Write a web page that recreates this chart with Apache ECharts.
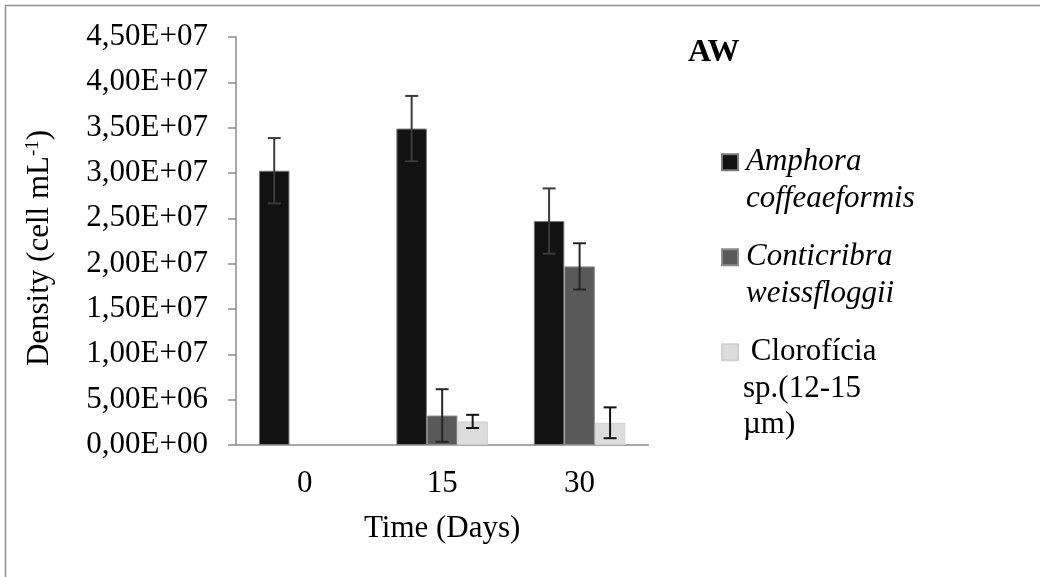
<!DOCTYPE html>
<html>
<head>
<meta charset="utf-8">
<script src="https://cdn.jsdelivr.net/npm/echarts@6/dist/echarts.min.js"></script>
<style>
html,body{margin:0;padding:0;background:#fff;}
#chart{width:1040px;height:577px;}
</style>
</head>
<body>
<div id="chart"></div>
<script>
// ---- data ----
var categories = ['0', '15', '30'];
var seriesNames = ['Amphora coffeaeformis', 'Conticribra weissfloggii', ' Clorofícia sp.(12-15 µm)'];
var amphora = [3.025e7, 3.49e7, 2.47e7];
var amphoraErr = [3.6e6, 3.6e6, 3.6e6];
var conticribra = [0, 3.25e6, 1.97e7];
var conticribraErr = [0, 2.9e6, 2.55e6];
var cloroficia = [0, 2.6e6, 2.45e6];
var cloroficiaErr = [0, 0.73e6, 1.7e6];
var yTickMin = 0, yTickMax = 4.5e7, yTickStep = 5e6;
var titleText = 'AW';
var xName = 'Time (Days)';
var yName = 'Density (cell mL{sup|-1})';

var FONT = '"Liberation Serif", "Times New Roman", serif';

function sciLabel(v) {
  if (v === 0) return '0,00E+00';
  var e = Math.floor(Math.log10(v) + 1e-9);
  var m = v / Math.pow(10, e);
  var es = (e < 10 ? '0' : '') + e;
  return m.toFixed(2).replace('.', ',') + 'E+' + es;
}
// zero-height bars are not drawn in the reference
function barData(vals) {
  return vals.map(function (v) { return v === 0 ? null : v; });
}

var BAR_W = 30.5;
function errSeries(vals, errs, idx, color) {
  var data = [];
  for (var i = 0; i < vals.length; i++) {
    if (errs[i] > 0) data.push([i, vals[i], errs[i]]);
  }
  return {
    type: 'custom',
    z: 5,
    silent: true,
    data: data,
    encode: { x: 0, y: 1 },
    renderItem: function (params, api) {
      var c = api.value(0), v = api.value(1), e = api.value(2);
      var x = api.coord([c, v])[0] + (idx - 1) * BAR_W;
      var yHi = api.coord([c, v + e])[1];
      var yLo = api.coord([c, v - e])[1];
      var hw = 6.5;
      var st = { stroke: color, lineWidth: 2 };
      return {
        type: 'group',
        children: [
          { type: 'line', shape: { x1: x, y1: yHi, x2: x, y2: yLo }, style: st },
          { type: 'line', shape: { x1: x - hw, y1: yHi, x2: x + hw, y2: yHi }, style: st },
          { type: 'line', shape: { x1: x - hw, y1: yLo, x2: x + hw, y2: yLo }, style: st }
        ]
      };
    }
  };
}

var legendText = {};
legendText[seriesNames[0]] = '\n\nAmphora\ncoffeaeformis\n';
legendText[seriesNames[1]] = '\n\nConticribra\nweissfloggii\n';
legendText[seriesNames[2]] = '\n\n Clorofícia\nsp.(12-15\nµm)';

var chart = echarts.init(document.getElementById('chart'), null, { renderer: 'canvas' });
var option = {
  animation: false,
  backgroundColor: '#fff',
  title: {
    text: titleText,
    left: 688,
    top: 37,
    padding: 0,
    textStyle: { fontFamily: FONT, fontSize: 32, fontWeight: 'bold', color: '#000' }
  },
  graphic: [{
    type: 'rect',
    shape: { x: 5.5, y: 5.5, width: 2000, height: 2000 },
    style: { fill: null, stroke: '#8f8f8f', lineWidth: 1.5 },
    silent: true
  }],
  legend: {
    orient: 'vertical',
    left: 721,
    top: 71,
    padding: 0,
    itemGap: -87.5,
    itemWidth: 16,
    itemHeight: 16,
    selectedMode: false,
    formatter: function (name) { return legendText[name]; },
    textStyle: { fontFamily: FONT, fontSize: 31, lineHeight: 36.5, color: '#000' },
    data: [
      { name: seriesNames[0], icon: 'rect', textStyle: { fontStyle: 'italic', padding: [0, 0, 0, 3] } },
      { name: seriesNames[1], icon: 'rect', textStyle: { fontStyle: 'italic', padding: [0, 0, 0, 3] } },
      { name: seriesNames[2], icon: 'rect', textStyle: { padding: [0, 0, 0, 0] } }
    ]
  },
  grid: { left: 236, top: 37, right: 391.7, bottom: 132 },
  xAxis: {
    type: 'category',
    data: categories,
    name: xName,
    nameLocation: 'middle',
    nameGap: 68,
    nameTextStyle: { fontFamily: FONT, fontSize: 31, color: '#000' },
    axisLine: { lineStyle: { color: '#8c8c8c', width: 1.5 } },
    axisTick: { length: 10, lineStyle: { color: '#8c8c8c', width: 1.5 } },
    axisLabel: { fontFamily: FONT, fontSize: 31, color: '#000', margin: 23 },
    splitLine: { show: false }
  },
  yAxis: {
    type: 'value',
    min: yTickMin,
    max: yTickMax,
    interval: yTickStep,
    name: yName,
    nameLocation: 'middle',
    nameRotate: 90,
    nameGap: 181,
    nameTextStyle: {
      fontFamily: FONT, fontSize: 31, color: '#000',
      padding: [0, 14, 0, 0],
      rich: { sup: { fontFamily: FONT, fontSize: 19, color: '#000', verticalAlign: 'top' } }
    },
    axisLine: { show: true, lineStyle: { color: '#8c8c8c', width: 1.5 } },
    axisTick: { show: true, length: 8, lineStyle: { color: '#8c8c8c', width: 1.5 } },
    axisLabel: { fontFamily: FONT, fontSize: 31, color: '#000', margin: 28, formatter: sciLabel },
    splitLine: { show: false }
  },
  series: [
    {
      name: seriesNames[0], type: 'bar', data: barData(amphora), barWidth: BAR_W, barGap: '0%',
      itemStyle: { color: '#121212', borderColor: '#7a7a7a', borderWidth: 1 }
    },
    {
      name: seriesNames[1], type: 'bar', data: barData(conticribra), barWidth: BAR_W, barGap: '0%',
      itemStyle: { color: '#595959', borderColor: '#8a8a8a', borderWidth: 1 }
    },
    {
      name: seriesNames[2], type: 'bar', data: barData(cloroficia), barWidth: BAR_W, barGap: '0%',
      itemStyle: { color: '#dcdcdc', borderColor: '#d0d0d0', borderWidth: 1 }
    },
    errSeries(amphora, amphoraErr, 0, '#3a3a3a'),
    errSeries(conticribra, conticribraErr, 1, '#262626'),
    errSeries(cloroficia, cloroficiaErr, 2, '#111111')
  ]
};
chart.setOption(option);
</script>
</body>
</html>
